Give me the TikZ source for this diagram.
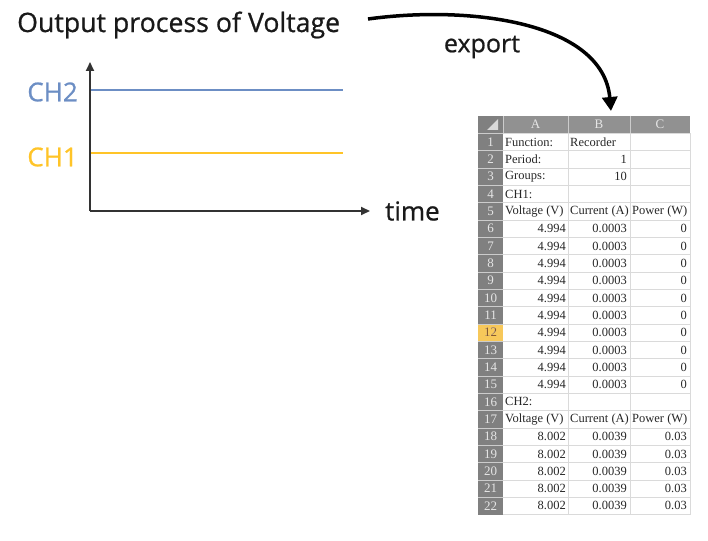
\documentclass[tikz,border=0pt]{standalone}
\usepackage{fontspec}
\setsansfont{Open Sans}[FakeBold=0.8]
\newfontfamily\cellfont{Liberation Serif}
\usetikzlibrary{arrows.meta}

\definecolor{chtwo}{RGB}{108,142,196}
\definecolor{chone}{RGB}{255,196,40}
\definecolor{hdrgray}{RGB}{145,145,145}
\definecolor{rowgray}{RGB}{128,128,128}
\definecolor{gridgray}{RGB}{218,218,218}
\definecolor{selrow}{RGB}{247,200,90}

\begin{document}
\begin{tikzpicture}[x=1pt,y=-1pt,
	bigtext/.style={font=\sffamily\fontsize{26}{30}\selectfont, text=black!90, inner sep=0pt},
	axis/.style={line width=1.8pt, black!80, -{Triangle[length=9pt,width=8pt]}},
	level/.style={line width=2.4pt},
	cell/.style={font=\cellfont\fontsize{12.5}{14}\selectfont, text=black!85, inner sep=0pt},
	hdr/.style={font=\cellfont\fontsize{13}{14}\selectfont, text=white!80!gray, inner sep=0pt}]
	
	\useasboundingbox (0,0) rectangle (708,540);
	\def\rh{17.33}
	
	% voltage plot
	\node[bigtext, anchor=west, font=\sffamily\fontsize{26.7}{30}\selectfont] (title) at (17,25) {Output process of Voltage};
	\coordinate (origin) at (90,211);
	\coordinate (ytip) at (90,62);
	\coordinate (xtip) at (370,211);
	\coordinate (ch2a) at (90,90);
	\coordinate (ch2b) at (343,90);
	\coordinate (ch1a) at (90,153);
	\coordinate (ch1b) at (343,153);
	\draw[level, chtwo] (ch2a) -- (ch2b);
	\draw[level, chone] (ch1a) -- (ch1b);
	\draw[axis] (origin) -- (ytip);
	\draw[axis] (origin) -- (xtip);
	\node[bigtext, text=chtwo, anchor=east] (ch2) at (78,92) {CH2};
	\node[bigtext, text=chone, anchor=east] (ch1) at (78,157) {CH1};
	\node[bigtext, anchor=west] (time) at (385,211) {time};
	
	% export arrow
	\coordinate (expfrom) at (368,19);
	\coordinate (expto) at (611,111);
	\draw[line width=3.5pt, -{Triangle[length=14pt,width=15pt]}] (expfrom) .. controls (470,5) and (603,22) .. (expto);
	\node[bigtext, font=\sffamily\fontsize{25}{30}\selectfont] (export) at (482,47) {export};
	
	% spreadsheet
	\fill[hdrgray] (478,116) rectangle (690,116+\rh);
	\fill[rowgray] (478,116) rectangle (503,116+23*\rh);
	\fill[selrow] (478,116+12*\rh) rectangle (503,116+13*\rh);
	\foreach \r in {1,...,23}
		\draw[gridgray, line width=0.6pt] (503,116+\r*\rh) -- (690,116+\r*\rh);
	\foreach \r in {1,...,22}
		\draw[white!60!gray, line width=0.5pt] (478,116+\r*\rh) -- (503,116+\r*\rh);
	\foreach \c in {568,630,690}
		\draw[gridgray, line width=0.6pt] (\c,116+\rh) -- (\c,116+23*\rh);
	\foreach \c in {503,568,630}
		\draw[white!60!gray, line width=0.5pt] (\c,116) -- (\c,116+\rh);
	\fill[white!70!gray] (498,119) -- (498,130) -- (487,130) -- cycle;
	\node[hdr] (colA) at (535.5,116+0.5*\rh) {A};
	\node[hdr] (colB) at (599,116+0.5*\rh) {B};
	\node[hdr] (colC) at (660,116+0.5*\rh) {C};
	\foreach \r in {1,...,22}
		\node[hdr] (n\r) at (490.5,{116+(\r+0.5)*\rh}) {\r};
	\node[hdr, text=brown!70!black] at (n12) {12};
	
	% cells
	\foreach \r/\txt in {1/Function:,2/Period:,3/Groups:,4/CH1:,5/Voltage (V),16/CH2:,17/Voltage (V)}
		\node[cell, anchor=west] (a\r) at (505,{116+(\r+0.5)*\rh}) {\txt};
	\node[cell, anchor=west] (b1) at (570,116+1.5*\rh) {Recorder};
	\node[cell, anchor=east] (b2) at (627,116+2.5*\rh) {1};
	\node[cell, anchor=east] (b3) at (627,116+3.5*\rh) {10};
	\foreach \r in {5,17} {
		\node[cell, anchor=west] (b\r) at (570,{116+(\r+0.5)*\rh}) {Current (A)};
		\node[cell, anchor=west] (c\r) at (632,{116+(\r+0.5)*\rh}) {Power (W)};
	}
	\foreach \r in {6,...,15} {
		\node[cell, anchor=east] (a\r) at (566,{116+(\r+0.5)*\rh}) {4.994};
		\node[cell, anchor=east] (b\r) at (627,{116+(\r+0.5)*\rh}) {0.0003};
		\node[cell, anchor=east] (c\r) at (687,{116+(\r+0.5)*\rh}) {0};
	}
	\foreach \r in {18,...,22} {
		\node[cell, anchor=east] (a\r) at (566,{116+(\r+0.5)*\rh}) {8.002};
		\node[cell, anchor=east] (b\r) at (627,{116+(\r+0.5)*\rh}) {0.0039};
		\node[cell, anchor=east] (c\r) at (687,{116+(\r+0.5)*\rh}) {0.03};
	}
	
\end{tikzpicture}
\end{document}
